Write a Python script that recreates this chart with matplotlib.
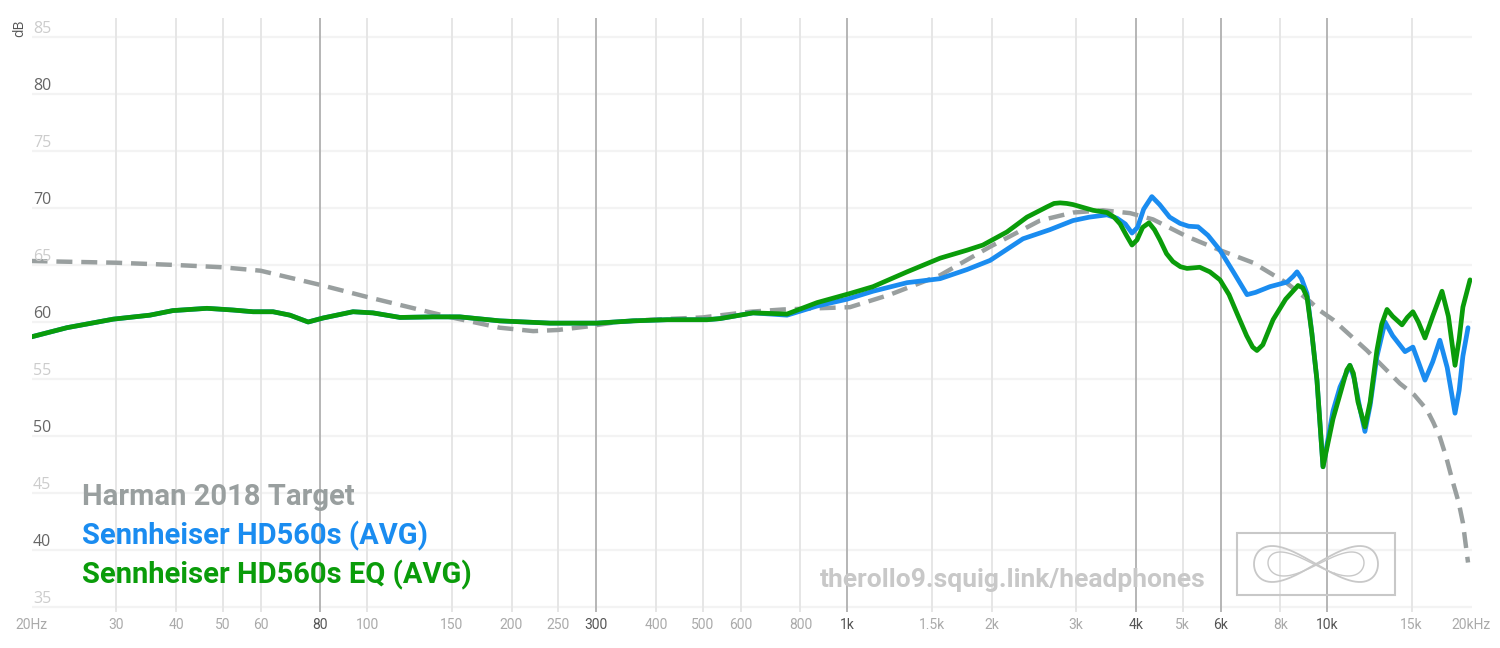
import matplotlib.pyplot as plt
from matplotlib.patches import Rectangle
import numpy as np

# dados (Hz, dB)
target_freq = [20, 30, 40, 50, 60, 80, 100, 137, 150, 189, 222, 250, 287, 332, 389, 500,
               628, 736, 1014, 1229, 1563, 1986, 2524, 2957, 3414, 3888, 4340, 5108, 5984,
               7015, 8254, 9218, 9665, 10292, 12115, 14191, 15200, 16150, 16650, 17185, 17700,
               18305, 18800, 19190, 19670]
target_db = [65.35, 65.2, 65.0, 64.8, 64.5, 63.25, 62.2, 60.8, 60.4, 59.5, 59.2, 59.3, 59.6, 60.0,
             60.2, 60.4, 60.9, 61.1, 61.3, 62.4, 64.1, 66.6, 68.9, 69.6, 69.8, 69.55, 69.0, 67.5,
             66.3, 65.2, 63.4, 61.8, 61.0, 60.2, 57.5, 54.6, 53.6, 52.3, 51.2, 49.9, 48.2,
             45.9, 44.2, 42.4, 38.9]

hd560_freq = [20, 23.7, 29.6, 35.3, 39.4, 46.4, 52.6, 57.9, 63.7, 69.1, 75.4, 81, 93.5, 102.9,
              117.2, 137, 156, 189, 240.6, 301, 358, 422, 511, 544, 637, 750, 866, 1000, 1133,
              1334, 1563, 1778, 1986, 2326, 2647, 2957, 3200, 3481, 3652, 3800, 3924, 4030, 4150,
              4316, 4480, 4700, 4940, 5150, 5386, 5650, 5984, 6400, 6813, 7100, 7605, 8254, 8500,
              8660, 8850, 9085, 9300, 9529, 9810, 10292, 10643, 11160, 11400, 11700, 11995, 12300,
              12703, 13210, 13700, 14540, 15100, 15500, 16000, 16600, 17185, 17800, 18480, 18850,
              19190, 19670]
hd560_db = [58.7, 59.5, 60.25, 60.6, 61.0, 61.2, 61.05, 60.9, 60.9, 60.6, 60.0, 60.35, 60.9, 60.8,
            60.4, 60.45, 60.45, 60.1, 59.9, 59.9, 60.1, 60.2, 60.2, 60.3, 60.8, 60.6, 61.4, 62.0,
            62.7, 63.45, 63.8, 64.6, 65.4, 67.3, 68.1, 68.9, 69.2, 69.4, 69.1, 68.6, 67.8, 68.3, 69.9,
            71.0, 70.3, 69.2, 68.65, 68.4, 68.35, 67.6, 66.3, 64.3, 62.4, 62.6, 63.1, 63.5, 64.0,
            64.4, 63.8, 62.5, 59.0, 54.9, 47.3, 52.2, 54.3, 56.2, 55.0, 52.5, 50.4, 52.7,
            56.95, 60.0, 58.8, 57.4, 57.8, 56.5, 54.9, 56.5, 58.4, 56.0, 52.0, 54.0,
            57.0, 59.5]

hd560eq_freq = [20, 23.7, 29.6, 35.3, 39.4, 46.4, 52.6, 57.9, 63.7, 69.1, 75.4, 81, 93.5, 102.9,
                117.2, 137, 156, 189, 240.6, 301, 358, 422, 511, 544, 637, 750, 866, 1014, 1133,
                1334, 1563, 1778, 1919, 2154, 2371, 2610, 2700, 2780, 2870, 2957, 3254, 3481, 3600,
                3707, 3820, 3924, 4020, 4130, 4257, 4370, 4487, 4630, 4775, 4950, 5108, 5433, 5700,
                5984, 6250, 6494, 6800, 7000, 7145, 7350, 7720, 8200, 8703, 8900, 9085, 9300, 9529,
                9810, 10292, 10700, 11000, 11160, 11350, 11600, 11995, 12300, 12703, 13000, 13335,
                13700, 14330, 14700, 15100, 15500, 16000, 16600, 17360, 17900, 18480, 18850, 19190,
                19860]
hd560eq_db = [58.7, 59.5, 60.25, 60.6, 61.0, 61.2, 61.05, 60.9, 60.9, 60.6, 60.0, 60.35, 60.9, 60.8,
              60.4, 60.45, 60.45, 60.1, 59.9, 59.9, 60.1, 60.2, 60.2, 60.3, 60.8, 60.7, 61.7, 62.5,
              63.1, 64.4, 65.6, 66.3, 66.75, 67.9, 69.2, 70.1, 70.4, 70.45, 70.4, 70.3, 69.8, 69.6, 69.2,
              68.6, 67.6, 66.75, 67.2, 68.3, 68.7, 68.1, 67.2, 66.0, 65.3, 64.85, 64.7, 64.8, 64.4,
              63.7, 62.4, 60.75, 58.8, 57.8, 57.5, 58.0, 60.2, 62.0, 63.2, 63.0, 62.2, 59.0, 54.9,
              47.3, 51.5, 54.0, 55.8, 56.2, 55.5, 53.0, 50.8, 53.0, 57.5, 59.8, 61.1,
              60.5, 59.75, 60.4, 60.9, 60.0, 58.6, 60.5, 62.7, 60.5, 56.2, 58.5, 61.3,
              63.7]

xtick_freq = [20, 30, 40, 50, 60, 80, 100, 150, 200, 250, 300, 400, 500, 600, 800,
              1000, 1500, 2000, 3000, 4000, 5000, 6000, 8000, 10000, 15000, 20000]
xtick_labels = ['20Hz', '30', '40', '50', '60', '80', '100', '150', '200', '250', '300', '400',
                '500', '600', '800', '1k', '1.5k', '2k', '3k', '4k', '5k', '6k', '8k', '10k',
                '15k', '20kHz']
dark_ticks = [80, 300, 1000, 4000, 6000, 10000]
db_ticks = [35, 40, 45, 50, 55, 60, 65, 70, 75, 80, 85]

cor = {'target': '#999f9f', 'hd': '#1a8cf0', 'eq': '#0a9c0a'}

W, H = 1500, 648
fig = plt.figure(figsize=(15, 6.48), dpi=100)
ax = fig.add_axes([31.5 / W, (H - 612) / H, 1440 / W, (612 - 18) / H])
ax.set_xscale('log')
ax.set_xlim(20, 20000)
ax.set_ylim(35 - 5 / 11.4, 85 + 19 / 11.4)
for s in ax.spines.values():
    s.set_visible(False)

# grade
ax.hlines(db_ticks, 20, 20000, color='#f3f3f3', lw=1.6, zorder=0)
for f in xtick_freq[1:-1]:
    c = '#b5b5b5' if f in dark_ticks else '#e6e6e6'
    ax.axvline(f, color=c, lw=1.4, zorder=0.5)

# curvas
ax.plot(target_freq, target_db, color=cor['target'], lw=3.2, dashes=(3.6, 2.0),
        solid_capstyle='butt', zorder=2)
ax.plot(hd560_freq, hd560_db, color=cor['hd'], lw=3.4, solid_joinstyle='round',
        solid_capstyle='round', zorder=3)
ax.plot(hd560eq_freq, hd560eq_db, color=cor['eq'], lw=3.4, solid_joinstyle='round',
        solid_capstyle='round', zorder=4)

# eixos
ax.set_yticks([])
ax.set_xticks(xtick_freq, xtick_labels)
ax.xaxis.set_minor_locator(plt.NullLocator())
ax.tick_params(axis='x', length=0, pad=4)
for f, lab in zip(xtick_freq, ax.get_xticklabels()):
    lab.set_color('#555555' if f in dark_ticks else '#aaaaaa')
    lab.set_fontsize(10)
    lab.set_family(['Roboto', 'DejaVu Sans'])

for v in db_ticks:
    c = '#cccccc' if v % 10 == 5 else '#666666'
    ax.text((33 - 31.5) / 1440, v + 0.7, str(v), transform=ax.get_yaxis_transform(),
            fontsize=11.5, color=c, family=['Open Sans', 'DejaVu Sans'], va='center', ha='left')
ax.text(-11.5 / 1440, 85.8, 'dB', transform=ax.get_yaxis_transform(), rotation=90,
        fontsize=10, color='#555555', family=['Open Sans', 'DejaVu Sans'], va='center', ha='center')

# legenda em texto
leg = [('Harman 2018 Target', cor['target'], 505),
       ('Sennheiser HD560s (AVG)', cor['hd'], 544),
       ('Sennheiser HD560s EQ (AVG)', cor['eq'], 583)]
for txt, c, yb in leg:
    fig.text(82 / W, 1 - yb / H, txt, color=c, fontsize=21, fontweight='bold',
             family=['Roboto', 'DejaVu Sans'], va='baseline', ha='left')

fig.text(820 / W, 1 - 587 / H, 'therollo9.squig.link/headphones', color='#c8c8c8',
         fontsize=19, fontweight='bold', family=['Roboto', 'DejaVu Sans'], va='baseline')

# logo
fig.patches.append(Rectangle((1237 / W, 1 - 595 / H), 158 / W, 62 / H, transform=fig.transFigure,
                             fill=False, edgecolor='#c8c8c8', lw=1.5))
t = np.linspace(0, 2 * np.pi, 200)
lx = 1316 + 62 * np.sin(t)
ly = 564 + 18 * np.sin(2 * t)
fig.lines.append(plt.Line2D(lx / W, 1 - ly / H, transform=fig.transFigure, color='#c8c8c8', lw=1.3))
lx2 = 1316 + 48 * np.sin(t + 0.4)
ly2 = 564 + 12 * np.sin(2 * t + 0.9)
fig.lines.append(plt.Line2D(lx2 / W, 1 - ly2 / H, transform=fig.transFigure, color='#c8c8c8', lw=1.0))

fig.savefig('out.png', dpi=100, facecolor='white')
